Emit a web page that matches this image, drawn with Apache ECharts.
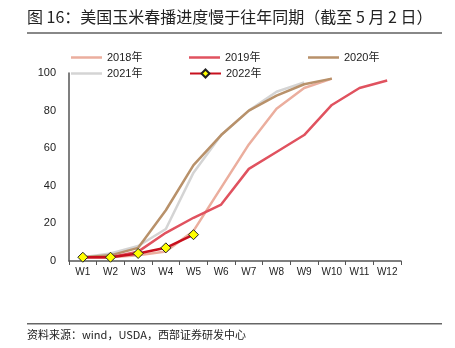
<!DOCTYPE html>
<html>
<head>
<meta charset="utf-8">
<script src="https://cdn.jsdelivr.net/npm/echarts@6/dist/echarts.min.js"></script>
<style>
  html, body { margin: 0; padding: 0; background: #fff; }
  #chart { width: 455px; height: 348px; }
</style>
</head>
<body>
<div id="chart"></div>
<script>
// Weekly planting progress (%) by year
const weeks = ['W1','W2','W3','W4','W5','W6','W7','W8','W9','W10','W11','W12'];
const y2018 = [2, 2, 3, 5, 16, 39, 62, 81, 92, 97];
const y2019 = [2, 2, 5, 15, 23, 30, 49, 58, 67, 83, 92, 96];
const y2020 = [2, 3, 7, 27, 51, 67, 80, 88, 94, 97];
const y2021 = [2, 4, 8, 17, 47, 67, 80, 90, 95];
const y2022 = [2, 2, 4, 7, 14];
const yTicks = [0, 20, 40, 60, 80, 100];

const titleText = '图 16：美国玉米春播进度慢于往年同期（截至 5 月 2 日）';
const sourceText = '资料来源：wind，USDA，西部证券研发中心';

const chart = echarts.init(document.getElementById('chart'), null, { renderer: 'canvas' });

// plain line icon for legend entries without markers
const lineIcon = 'path://M0,0 L31,0 L31,2.5 L0,2.5 Z';

function lineSeries(name, data, color, extra) {
  return Object.assign({
    name: name,
    type: 'line',
    data: data,
    symbol: 'none',
    showSymbol: false,
    lineStyle: { color: color, width: 2.5 },
    itemStyle: { color: color },
    animation: false
  }, extra || {});
}

// one legend block per cell of a 3-column layout
function legendCell(item, left, top) {
  return {
    data: [item], left: left, top: top,
    itemWidth: 31, itemHeight: 10,
    textStyle: { fontSize: 11, color: '#222' }
  };
}

chart.setOption({
  animation: false,
  textStyle: { fontFamily: '"Liberation Sans", Arial, "Noto Sans CJK SC", sans-serif' },
  graphic: [
    { type: 'text', left: 27, top: 9,
      style: { text: titleText, font: '16px "Noto Sans CJK SC", sans-serif', fill: '#222' } },
    { type: 'rect', shape: { x: 27, y: 32, width: 415, height: 2 }, style: { fill: '#888' } },
    { type: 'rect', shape: { x: 27, y: 323, width: 415, height: 1.5 }, style: { fill: '#666' } },
    { type: 'text', left: 27, top: 329,
      style: { text: sourceText, font: '11px "Noto Sans CJK SC", monospace', fill: '#222' } }
  ],
  legend: [
    legendCell({ name: '2018年', icon: lineIcon }, 66, 47),
    legendCell({ name: '2019年', icon: lineIcon }, 184, 47),
    legendCell({ name: '2020年', icon: lineIcon }, 303, 47),
    legendCell({ name: '2021年', icon: lineIcon }, 66, 63),
    legendCell('2022年', 184, 63)
  ],
  grid: { left: 69, right: 54, top: 73, bottom: 87, containLabel: false },
  xAxis: {
    type: 'category',
    data: weeks,
    boundaryGap: true,
    axisLine: { lineStyle: { color: '#555', width: 1.5 } },
    axisTick: { show: true, alignWithLabel: false, length: 4, lineStyle: { color: '#555' } },
    axisLabel: { fontSize: 10, color: '#222', margin: 6, interval: 0 }
  },
  yAxis: {
    type: 'value',
    min: 0, max: 100, interval: 20,
    splitLine: { show: false },
    axisLine: { show: true, lineStyle: { color: '#555', width: 1.5 } },
    axisTick: { show: false },
    axisLabel: { fontSize: 11, color: '#222', margin: 13,
      formatter: v => yTicks.includes(v) ? String(v) : '' }
  },
  series: [
    lineSeries('2018年', y2018, '#EBAE9E', { z: 2 }),
    lineSeries('2019年', y2019, '#E0525F', { z: 3 }),
    lineSeries('2020年', y2020, '#B8916A', { z: 2 }),
    lineSeries('2021年', y2021, '#D4D4D4', { z: 1 }),
    lineSeries('2022年', y2022, '#C8101E', {
      z: 5,
      symbol: 'diamond', symbolSize: 10, showSymbol: true,
      itemStyle: { color: '#FFFF00', borderColor: '#222', borderWidth: 1 }
    })
  ]
});
</script>
</body>
</html>
